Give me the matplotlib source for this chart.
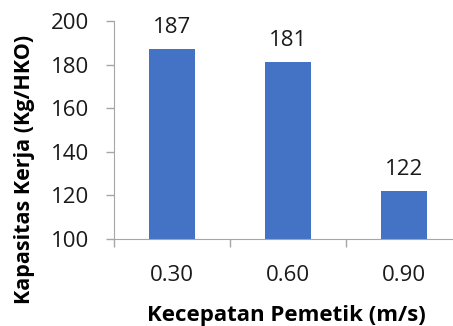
import matplotlib.pyplot as plt
import numpy as np

kecepatan = ['0.30', '0.60', '0.90']
kapasitas = [187, 181, 122]
y_ticks = [100, 120, 140, 160, 180, 200]

plt.rcParams['font.family'] = ['Open Sans', 'DejaVu Sans']

fig = plt.figure(figsize=(4.53, 3.26), dpi=100)
ax = fig.add_axes([114 / 453, 1 - 239 / 326, 348 / 453, 218 / 326])

x = np.arange(len(kecepatan))
ax.bar(x, kapasitas, width=0.4, color='#4472C4')

for xi, val in zip(x, kapasitas):
    ax.annotate(str(val), (xi, val), xytext=(0, 8), textcoords='offset points',
                ha='center', va='bottom', fontsize=16, color='#1a1a1a')

ax.set_xlim(-0.5, 2.5)
ax.set_ylim(100, 200)
ax.set_yticks(y_ticks)
ax.set_xticks(x)
ax.set_xticklabels(kecepatan)
ax.set_xticks([-0.5, 0.5, 1.5, 2.5], minor=True)
ax.tick_params(axis='x', which='major', length=0, pad=19, labelsize=16, labelcolor='#1a1a1a')
ax.tick_params(axis='x', which='minor', length=6, color='#a6a6a6', width=1)
ax.tick_params(axis='y', length=6, color='#a6a6a6', width=1, labelsize=16, labelcolor='#1a1a1a', pad=12)

for s in ['top', 'right']:
    ax.spines[s].set_visible(False)
for s in ['left', 'bottom']:
    ax.spines[s].set_color('#a6a6a6')

ax.set_xlabel('Kecepatan Pemetik (m/s)', fontsize=16, fontweight='bold', va='center')
ax.set_ylabel('Kapasitas Kerja (Kg/HKO)', fontsize=15.5, fontweight='bold', va='center')
ax.xaxis.set_label_coords(0.496, -0.349)
ax.yaxis.set_label_coords(-0.256, 0.317)

fig.savefig('out.png', dpi=100)
